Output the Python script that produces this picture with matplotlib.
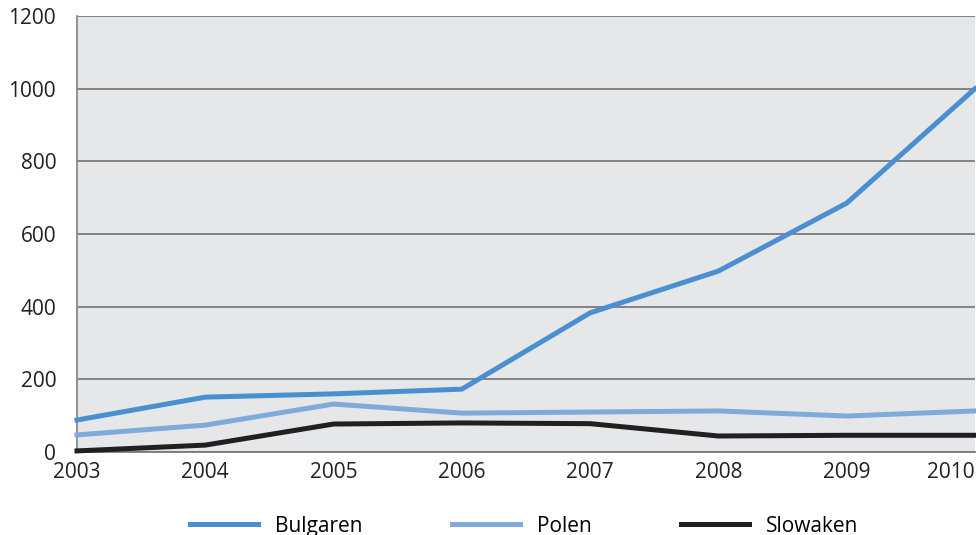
import matplotlib.pyplot as plt

plt.rcParams["font.family"] = ["Open Sans", "DejaVu Sans"]

# Daten
jahre = [2003, 2004, 2005, 2006, 2007, 2008, 2009, 2010]
bulgaren = [88, 151, 160, 173, 383, 498, 685, 1000]
polen = [47, 74, 132, 107, 110, 113, 99, 113]
slowaken = [3, 19, 77, 80, 78, 44, 46, 46]
y_ticks = [0, 200, 400, 600, 800, 1000, 1200]

fig = plt.figure(figsize=(9.76, 5.35), dpi=100)
ax = fig.add_axes([77 / 976, 1 - 452 / 535, 898 / 976, 436 / 535])
ax.set_facecolor("#e6e7e9")

lw = 3.6
ax.plot(jahre, bulgaren, color="#4a8fd0", lw=lw, label="Bulgaren", clip_on=False, zorder=4)
ax.plot(jahre, polen, color="#80aadc", lw=lw, label="Polen", clip_on=False, zorder=3)
ax.plot(jahre, slowaken, color="#231f20", lw=lw, label="Slowaken", clip_on=False, zorder=5)

ax.set_xlim(2003, 2010)
ax.set_ylim(0, 1200)
ax.set_xticks(jahre)
ax.set_yticks(y_ticks)
ax.grid(axis="y", color="#7b7b7b", lw=1.3)
ax.set_axisbelow(True)
ax.tick_params(length=0, labelsize=15, colors="#231f20")
ax.tick_params(axis="y", pad=15)
ax.tick_params(axis="x", pad=7)
# letzte Jahreszahl rechtsbündig an der Kante
ax.get_xticklabels()[-1].set_horizontalalignment("right")

for s in ["top", "right"]:
    ax.spines[s].set_visible(False)
ax.spines["left"].set_color("#8a8a8a")
ax.spines["left"].set_linewidth(1.3)
ax.spines["bottom"].set_color("#7b7b7b")
ax.spines["bottom"].set_linewidth(1.3)

fig.legend(loc="lower center", bbox_to_anchor=(0.537, -0.038), ncol=3, frameon=False,
           fontsize=15, handlelength=3.26, handletextpad=0.8, columnspacing=4.3)

fig.savefig("out.png", dpi=100)
